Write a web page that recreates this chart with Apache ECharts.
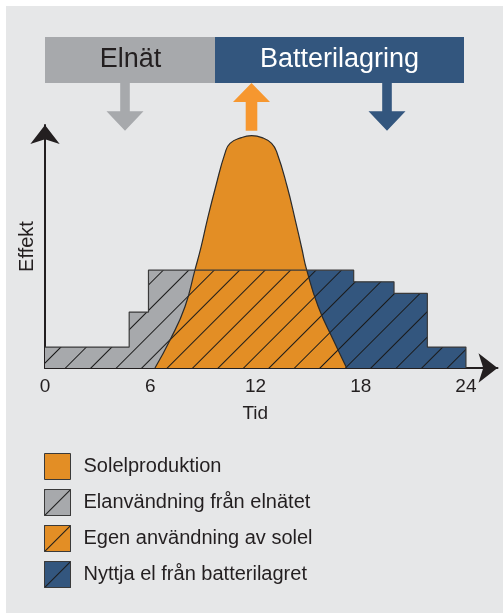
<!DOCTYPE html>
<html>
<head>
<meta charset="utf-8">
<title>Solel och batterilagring</title>
<script src="https://cdn.jsdelivr.net/npm/echarts@6/dist/echarts.min.js"></script>
<style>
  html, body { margin: 0; padding: 0; background: #fff; }
  .wrap { position: relative; width: 503px; height: 613px; }
  .panel { position: absolute; left: 6px; top: 6px; right: 0; bottom: 0; background: #e6e7e8; }
  #chart { position: absolute; left: 0; top: 0; width: 503px; height: 613px; }
</style>
</head>
<body>
<div class="wrap">
  <div class="panel"></div>
  <div id="chart"></div>
</div>
<script>
// tid (h) på x, effekt (godtycklig skala 0-100) på y
const xTicks = [0, 6, 12, 18, 24];

// solelproduktion, avläst längs kurvan
const solarHours = [6.27, 7.13, 7.98, 8.55, 8.9, 9.25, 9.73, 10.26, 10.55, 11.2, 11.78, 12.37, 12.92, 13.24, 13.81, 14.27, 14.64, 14.92, 15.58, 16.44, 17.2];
const solarPower = [0, 12, 26.3, 42.1, 52, 63.5, 77.8, 92.1, 96.4, 98.9, 99.7, 98.9, 96.4, 92.1, 77.8, 63.5, 51.4, 42.1, 26.3, 12, 0];

// elanvändning (trappsteg), hörnpunkter
const loadHours = [0, 4.8, 4.8, 5.9, 5.9, 17.6, 17.6, 19.9, 19.9, 21.8, 21.8, 24, 24];
const loadPower = [9, 9, 24, 24, 42, 42, 37, 37, 32, 32, 9, 9, 0];

// batteriet tar över efter middag
const batteryFrom = 12;

const FONT = '"Liberation Sans", Arial, sans-serif';
const TEXT = '#231f20';
const ORANGE = '#e38e25';
const GREY = '#a7a9ac';
const BLUE = '#33567e';

const solar = solarHours.map((h, i) => [h, solarPower[i]]);
const load = loadHours.map((h, i) => [h, loadPower[i]]);
// batteridelen = samma trappa, från batteryFrom och framåt
let levelAt = load[0][1];
load.forEach(p => { if (p[0] <= batteryFrom) levelAt = p[1]; });
const battery = [[batteryFrom, levelAt]].concat(load.filter(p => p[0] > batteryFrom));

// snedstreck
const hatch = {
  symbol: 'rect',
  symbolSize: 1,
  color: '#1a1a1a',
  dashArrayX: [1, 0],
  dashArrayY: [1, 17],
  rotation: -Math.PI / 4
};

const chart = echarts.init(document.getElementById('chart'));

const option = {
  animation: false,
  textStyle: { fontFamily: FONT },
  grid: { left: 45, right: 5.5, top: 125, bottom: 245 },
  xAxis: {
    type: 'value',
    min: 0,
    max: 25.8,
    interval: 6,
    name: 'Tid',
    nameLocation: 'middle',
    nameGap: 36,
    nameTextStyle: { fontSize: 19, color: TEXT, fontFamily: FONT, padding: [0, 32, 0, 0] },
    axisLine: {
      lineStyle: { color: TEXT, width: 2 },
      symbol: ['none', 'arrow'],
      symbolSize: [22, 19]
    },
    axisTick: { show: false },
    splitLine: { show: false },
    axisLabel: {
      fontSize: 19,
      color: TEXT,
      fontFamily: FONT,
      margin: 9,
      formatter: v => (xTicks.indexOf(v) >= 0 ? String(v) : '')
    }
  },
  yAxis: {
    type: 'value',
    min: 0,
    max: 104.3,
    name: 'Effekt',
    nameLocation: 'middle',
    nameRotate: 90,
    nameGap: 8,
    nameTextStyle: { fontSize: 20, color: TEXT, fontFamily: FONT, padding: [0, 0, 0, 0] },
    axisLine: {
      show: true,
      lineStyle: { color: TEXT, width: 2 },
      symbol: ['none', 'arrow'],
      symbolSize: [22, 19]
    },
    axisTick: { show: false },
    axisLabel: { show: false },
    splitLine: { show: false }
  },
  legend: {
    orient: 'vertical',
    left: 44,
    top: 453,
    padding: 0,
    itemWidth: 26,
    itemHeight: 26,
    itemGap: 9,
    icon: 'rect',
    selectedMode: false,
    textStyle: { fontSize: 20, color: TEXT, fontFamily: FONT, padding: [0, 0, 0, 8] },
    itemStyle: { borderColor: '#3a3a3a', borderWidth: 1 },
    data: [
      { name: 'Solelproduktion', itemStyle: { color: ORANGE, decal: 'none' } },
      { name: 'Elanvändning från elnätet', itemStyle: { color: GREY, decal: hatch } },
      { name: 'Egen användning av solel', itemStyle: { color: ORANGE, decal: hatch } },
      { name: 'Nyttja el från batterilagret', itemStyle: { color: BLUE, decal: hatch } }
    ]
  },
  series: [
    {
      name: 'Elanvändning från elnätet',
      type: 'line',
      data: load,
      showSymbol: false,
      itemStyle: { color: GREY },
      lineStyle: { width: 0 },
      areaStyle: { color: GREY, opacity: 1 }
    },
    {
      name: 'Nyttja el från batterilagret',
      type: 'line',
      data: battery,
      showSymbol: false,
      itemStyle: { color: BLUE },
      lineStyle: { width: 0 },
      areaStyle: { color: BLUE, opacity: 1 }
    },
    {
      name: 'Solelproduktion',
      type: 'line',
      data: solar,
      smooth: 0.5,
      showSymbol: false,
      itemStyle: { color: ORANGE },
      lineStyle: { color: '#2b2b2b', width: 1.2 },
      areaStyle: { color: ORANGE, opacity: 1 }
    },
    {
      // streckning över hela förbrukningen + konturen
      name: 'Egen användning av solel',
      type: 'line',
      data: load,
      showSymbol: false,
      itemStyle: { color: ORANGE, decal: hatch },
      lineStyle: { color: '#3a3a3a', width: 1.2, decal: hatch },
      areaStyle: { color: 'rgba(0,0,0,0)', opacity: 1 }
    }
  ],
  graphic: [
    { type: 'rect', shape: { x: 45, y: 37, width: 170, height: 46 }, style: { fill: GREY } },
    { type: 'rect', shape: { x: 215, y: 37, width: 249, height: 46 }, style: { fill: BLUE } },
    {
      type: 'text', x: 130.5, y: 60,
      style: { text: 'Elnät', fill: TEXT, font: '27px ' + FONT, align: 'center', verticalAlign: 'middle' }
    },
    {
      type: 'text', x: 339.5, y: 60,
      style: { text: 'Batterilagring', fill: '#fff', font: '27px ' + FONT, align: 'center', verticalAlign: 'middle' }
    },
    {
      type: 'polygon',
      shape: { points: [[120.2, 83], [129.8, 83], [129.8, 111.3], [143.5, 111.3], [125, 130.7], [106.5, 111.3], [120.2, 111.3]] },
      style: { fill: GREY }
    },
    {
      type: 'polygon',
      shape: { points: [[251.5, 83], [270, 102], [257.3, 102], [257.3, 130.7], [245.7, 130.7], [245.7, 102], [233, 102]] },
      style: { fill: '#f6972f' }
    },
    {
      type: 'polygon',
      shape: { points: [[382.2, 83], [391.8, 83], [391.8, 111.3], [405.5, 111.3], [387, 130.7], [368.5, 111.3], [382.2, 111.3]] },
      style: { fill: BLUE }
    }
  ]
};

chart.setOption(option);
</script>
</body>
</html>
